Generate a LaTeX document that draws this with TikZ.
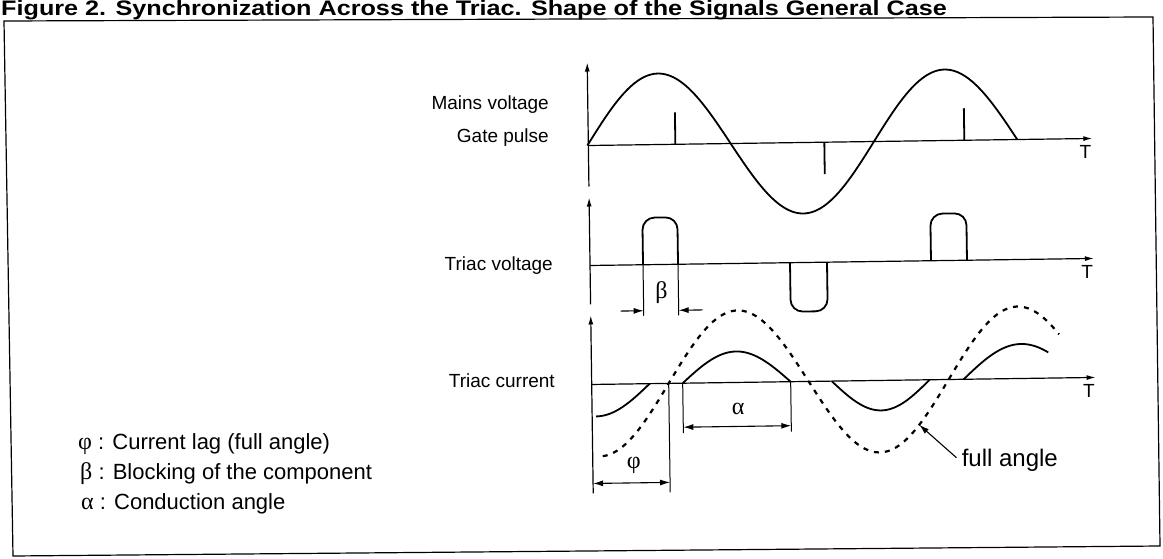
\documentclass[tikz,border=0pt]{standalone}
\usepackage{fontspec}
\setmainfont{Liberation Sans}
\newfontfamily\grk{Liberation Serif}
\usetikzlibrary{arrows.meta}
\begin{document}
\begin{tikzpicture}[x=1pt,y=-1pt,
  axis/.style={line width=1.2pt,-{Latex[length=9pt,width=5pt]}},
  wave/.style={line width=1.8pt},
  full/.style={line width=2.2pt,dash pattern=on 5pt off 6pt},
  dimline/.style={line width=1pt},
  dimto/.style={line width=1.1pt,-{Latex[length=10pt,width=6pt]}},
  dimboth/.style={line width=1.1pt,{Latex[length=10pt,width=6pt]}-{Latex[length=10pt,width=6pt]}},
  lbl/.style={font=\fontsize{19}{22}\selectfont,inner sep=0pt},
  leg/.style={font=\fontsize{22}{26}\selectfont,inner sep=0pt,anchor=base west},
  greek/.style={font=\fontsize{24}{28}\selectfont\grk,inner sep=0pt}]
 \useasboundingbox (0,0) rectangle (1163,559);
 \node[anchor=base west,inner sep=0pt,font=\fontsize{21}{25}\selectfont\bfseries] (title) at (1,16) {\scalebox{1.2}[1]{Figure 2. Synchronization Across the Triac. Shape of the Signals General Case}};
 \draw[line width=1.2pt] (4,21) -- (1153,17) -- (1160,546) -- (13,556) -- cycle;
 % row labels and legend
 \node[lbl,anchor=base east] (mains) at (549,110) {Mains voltage};
 \node[lbl,anchor=base east] (gate) at (549,143) {Gate pulse};
 \node[lbl,anchor=base east] (tvolt) at (553,270) {Triac voltage};
 \node[lbl,anchor=base east] (tcurr) at (555,387) {Triac current};
 \node[leg] (legphi) at (78,449) {{\grk\fontsize{24}{26}\selectfont φ} : Current lag (full angle)};
 \node[leg] (legbeta) at (80,479) {{\grk\fontsize{24}{26}\selectfont β} : Blocking of the component};
 \node[leg] (legalpha) at (81,509) {{\grk\fontsize{24}{26}\selectfont α} : Conduction angle};
 \begin{scope}[rotate around={0.8:(840,262)}]
 % mains voltage, gate pulses
 \draw[axis] (590,183) -- (590,59);
 \draw[axis] (590,142) -- (1094,142); \node[lbl] (t1) at (1087,155) {T};
 \draw[wave] plot[domain=589:1019,samples=90,smooth] (\x,{142-71*sin((\x-589)*1.25584)});
 \foreach \g/\h in {677/110,826/174,966/110} \draw[wave] (\g,142) -- (\g,\h);
 % triac voltage
 \draw[axis] (590,301) -- (590,194);
 \draw[axis] (590,262) -- (1094,262); \node[lbl] (t2) at (1087,275) {T};
 \foreach \a/\b/\h in {643/678/215,931/967/215,790/827/311} \draw[wave,rounded corners=12pt] (\a,262) -- (\a,\h) -- (\b,\h) -- (\b,262);
 \draw[dimline] (643,262) -- (643,313); \draw[dimline] (678,262) -- (678,313);
 \draw[dimto] (620,308) -- (643,308); \draw[dimto] (702,308) -- (678,308);
 \node[greek] (beta) at (661,290) {β};
 % triac current
 \draw[axis] (590,490) -- (590,312);
 \draw[axis] (590,381) -- (1094,381); \node[lbl] (t3) at (1087,394) {T};
 \draw[wave] plot[domain=594:648,samples=30,smooth] (\x,{381+32*sin((\x-540)*1.66667)});
 \draw[wave] plot[domain=681:789,samples=40,smooth] (\x,{381-31*sin((\x-681)*1.66667)});
 \draw[wave] plot[domain=830:928,samples=40,smooth] (\x,{381+30*sin((\x-830)*1.83673)});
 \draw[wave] plot[domain=962:1047,samples=40,smooth] (\x,{381-34.5*sin((\x-962)*1.55172)});
 \draw[full] plot[domain=600:1058,samples=120,smooth] (\x,{381-72*sin((\x-667)*1.28571)});
 \draw[dimline] (667,381) -- (667,490);
 \draw[dimboth] (590,480) -- (667,480); \node[greek] (phi) at (631,463) {φ};
 \draw[dimline] (681,381) -- (681,431); \draw[dimline] (789,381) -- (789,431);
 \draw[dimboth] (681,425) -- (789,425); \node[greek] (alpha) at (736,408) {α};
 \node[font=\fontsize{24}{28}\selectfont,inner sep=0pt] (fulllbl) at (1007,463) {full angle};
 \coordinate (fa) at (917,{381-72*sin(250*1.28571)});
 \draw[dimto] ([xshift=-5pt,yshift=3pt]fulllbl.west) -- (fa);
 \end{scope}
\end{tikzpicture}
\end{document}
